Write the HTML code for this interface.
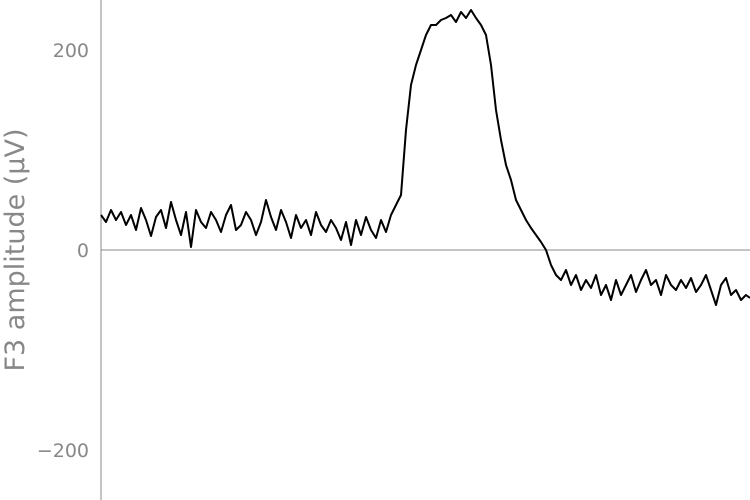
<!DOCTYPE html>
<html><head><meta charset="utf-8"><style>
body{margin:0;background:#fff;}
svg{display:block;font-family:"DejaVu Sans","Liberation Sans",sans-serif;}
</style></head><body>
<svg id="chart" width="750" height="500">
<line x1="101" y1="0" x2="101" y2="500" stroke="#888" stroke-width="1"/>
<text x="24" y="250" font-size="27" fill="#888" text-anchor="middle" transform="rotate(-90 24 250)">F3 amplitude (μV)</text>
<g id="ticks"></g>
<line id="zero" stroke="#888" stroke-width="1"/>
<path id="trace" fill="none" stroke="#000" stroke-width="2" stroke-linejoin="round"/>
</svg>
<script>
const tickValues=[200,0,-200];
const tickLabels=["200","0","\u2212200"];
const xStart=101, xStep=5;
const amplitudes=[35,28,40,30,38,25,35,20,42,30,14,33,40,22,48,30,15,38,3,40,28,22,38,30,18,35,45,20,25,38,30,15,28,50,33,20,40,28,12,35,22,30,15,38,25,18,30,22,10,28,5,30,15,33,20,12,30,18,35,45,55,
120,165,185,200,215,225,225,230,232,235,228,238,232,240,232,225,215,185,140,110,85,70,50,40,30,22,15,8,0,-15,-25,-30,-20,-35,-25,-40,-30,-38,-25,-45,-35,-50,-30,-45,-35,-25,-42,-30,-20,-35,-30,-45,-25,-35,-40,-30,-38,-28,-42,-35,-25,-40,-55,-35,-28,-45,-40,-50,-45,-48];
function yScale(v){return 250-v*1.0;}
function xScale(i){return Math.min(750,xStart+i*xStep);}
const g=document.getElementById('ticks');
tickValues.forEach((v,i)=>{
  const t=document.createElementNS('http://www.w3.org/2000/svg','text');
  t.setAttribute('x',89);t.setAttribute('y',yScale(v)+7);
  t.setAttribute('font-size',19);t.setAttribute('fill','#888');t.setAttribute('text-anchor','end');
  
  
  t.textContent=tickLabels[i];g.appendChild(t);
});
const z=document.getElementById('zero');
z.setAttribute('x1',101);z.setAttribute('x2',750);z.setAttribute('y1',yScale(0));z.setAttribute('y2',yScale(0));
let d='';
amplitudes.forEach((v,i)=>{d+=(i?'L':'M')+xScale(i)+' '+yScale(v);});
document.getElementById('trace').setAttribute('d',d);
</script>
</body></html>
